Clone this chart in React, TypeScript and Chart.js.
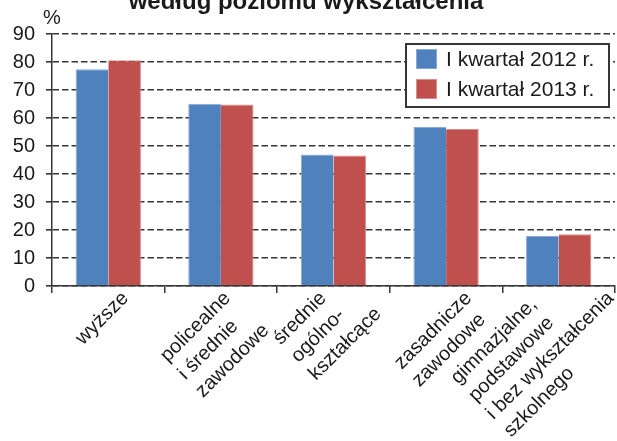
import React, { useEffect, useRef } from "react";
import { Chart, registerables } from "chart.js";

Chart.register(...registerables);

// ---- data ----
const CATEGORIES: string[][] = [
  ["wyższe"],
  ["policealne", "i średnie", "zawodowe"],
  ["średnie", "ogólno-", "kształcące"],
  ["zasadnicze", "zawodowe"],
  ["gimnazjalne,", "podstawowe", "i bez wykształcenia", "szkolnego"],
];
const SERIES_LABELS = ["I kwartał 2012 r.", "I kwartał 2013 r."];
const VALUES_2012 = [77.4, 65.1, 47.0, 56.8, 17.9];
const VALUES_2013 = [80.6, 64.8, 46.6, 56.1, 18.5];
const Y_MIN = 0;
const Y_MAX = 90;
const Y_STEP = 10;
const TITLE = "według poziomu wykształcenia";
const UNIT = "%";

// ---- styles ----
const BLUE = "#4F81BD";
const RED = "#C0504D";
const BLUE_EDGE = "#8AA9D6";
const RED_EDGE = "#D88E8C";
const TEXT = "#1a1a1a";
const AXIS = "#363636";
const FONT = '"Liberation Sans", Arial, sans-serif';

const titlePlugin = {
  id: "topTexts",
  afterDraw(chart: any) {
    const ctx = chart.ctx;
    ctx.save();
    ctx.fillStyle = TEXT;
    ctx.font = `bold 24px ${FONT}`;
    ctx.textAlign = "center";
    ctx.textBaseline = "alphabetic";
    ctx.fillText(TITLE, 306, 9);
    ctx.font = `20px ${FONT}`;
    ctx.textBaseline = "middle";
    ctx.fillText(UNIT, chart.chartArea.left, 18);
    ctx.restore();
  },
};

const legendPlugin = {
  id: "boxLegend",
  afterDraw(chart: any) {
    const ctx = chart.ctx;
    const bx = 406, by = 44, bw = 203, bh = 63;
    ctx.save();
    ctx.fillStyle = "#ffffff";
    ctx.fillRect(bx, by, bw, bh);
    ctx.lineWidth = 2;
    ctx.strokeStyle = AXIS;
    ctx.strokeRect(bx, by, bw, bh);
    ctx.font = `21px ${FONT}`;
    ctx.textBaseline = "middle";
    ctx.textAlign = "left";
    chart.data.datasets.forEach((ds: any, i: number) => {
      const y = by + 5 + i * 30;
      ctx.fillStyle = ds.backgroundColor;
      ctx.fillRect(bx + 10, y, 21, 20);
      ctx.strokeStyle = ds.borderColor;
      ctx.lineWidth = 1;
      ctx.strokeRect(bx + 10.5, y + 0.5, 20, 19);
      ctx.fillStyle = TEXT;
      ctx.fillText(ds.label, bx + 40, y + 11);
    });
    ctx.restore();
  },
};

const xLabelPlugin = {
  id: "rotatedXLabels",
  afterDraw(chart: any) {
    const ctx = chart.ctx;
    const xs = chart.scales.x;
    const axisY = chart.chartArea.bottom;
    const c = Math.SQRT1_2;
    const lh = 25;
    ctx.save();
    ctx.font = `20px ${FONT}`;
    ctx.fillStyle = TEXT;
    (chart.data.labels as string[][]).forEach((lines, i) => {
      const widths = lines.map((l) => ctx.measureText(l).width);
      let minX = Infinity, maxX = -Infinity, minY = Infinity;
      lines.forEach((_, j) => {
        for (const u of [0, widths[j]]) {
          for (const v of [j * lh - 6, j * lh + 6]) {
            const x = (u + v) * c;
            const y = (-u + v) * c;
            minX = Math.min(minX, x);
            maxX = Math.max(maxX, x);
            minY = Math.min(minY, y);
          }
        }
      });
      const cx = xs.getPixelForValue(i) - 6;
      let ox = cx - (minX + maxX) / 2;
      if (ox + maxX > chart.width - 2) ox = chart.width - 2 - maxX;
      const oy = axisY + 5 - minY;
      ctx.save();
      ctx.translate(ox, oy);
      ctx.rotate(-Math.PI / 4);
      ctx.textAlign = "left";
      ctx.textBaseline = "middle";
      lines.forEach((l, j) => ctx.fillText(l, 0, j * lh));
      ctx.restore();
    });
    ctx.restore();
  },
};

export default function App() {
  const ref = useRef<HTMLCanvasElement | null>(null);
  useEffect(() => {
    if (!ref.current) return;
    Chart.defaults.font.family = FONT;
    const chart = new Chart(ref.current, {
      type: "bar",
      data: {
        labels: CATEGORIES as any,
        datasets: [
          { label: SERIES_LABELS[0], data: VALUES_2012, backgroundColor: BLUE, borderColor: BLUE_EDGE, borderWidth: { top: 1, left: 1, right: 0, bottom: 0 } },
          { label: SERIES_LABELS[1], data: VALUES_2013, backgroundColor: RED, borderColor: RED_EDGE, borderWidth: { top: 1, left: 0, right: 1, bottom: 0 } },
        ],
      },
      options: {
        animation: false,
        responsive: false,
        maintainAspectRatio: false,
        layout: { padding: { top: 34, right: 2, left: 0, bottom: 0 } },
        datasets: { bar: { categoryPercentage: 0.58, barPercentage: 1.0 } },
        plugins: {
          legend: { display: false },
          title: { display: false },
          tooltip: { enabled: false },
        },
        scales: {
          x: {
            grid: {
              display: true,
              drawOnChartArea: false,
              drawTicks: true,
              tickLength: 7,
              color: AXIS,
              lineWidth: 1.5,
              offset: true,
            },
            border: { display: true, color: AXIS, width: 1.5 },
            ticks: { display: false },
            afterFit: (s: any) => {
              s.height = 155;
            },
          },
          y: {
            min: Y_MIN,
            max: Y_MAX,
            ticks: { stepSize: Y_STEP, color: TEXT, font: { size: 20 }, padding: 11 },
            grid: {
              color: AXIS,
              lineWidth: 1.6,
              tickLength: 6,
              tickBorderDash: [],
            },
            border: { display: true, color: AXIS, width: 1.5, dash: [6.5, 3] },
            afterFit: (s: any) => {
              s.width = 52;
            },
          },
        },
      },
      plugins: [titlePlugin, legendPlugin, xLabelPlugin],
    } as any);
    return () => chart.destroy();
  }, []);
  return (
    <div style={{ position: "absolute", left: 0, top: 0, width: 617, height: 441 }}>
      <canvas ref={ref} width={617} height={441} style={{ width: 617, height: 441 }} />
    </div>
  );
}
